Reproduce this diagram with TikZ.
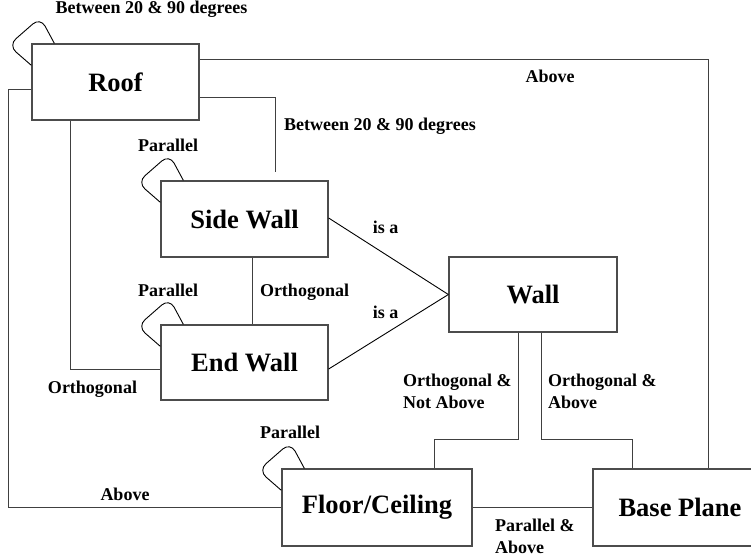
\documentclass[tikz,border=0pt]{standalone}
\usepackage{fontspec}
\setmainfont{Liberation Serif}
\usetikzlibrary{calc}
\tikzset{
  boxnode/.style={draw=black!70, line width=1.3pt, fill=white, inner sep=0pt,
    font=\fontsize{26.5}{30}\selectfont\bfseries},
  conn/.style={draw=black!75, line width=1pt},
  loopline/.style={draw=black, line width=0.9pt},
  lbl/.style={inner sep=0pt, font=\fontsize{18}{22}\selectfont\bfseries, align=left}
}
\newcommand\selfloop[1]{%
  \draw[loopline, rounded corners=10pt] ($(#1.north west)+(23,0)$) -- ($(#1.north west)+(9,-26)$) -- ($(#1.north west)+(-23,2)$) -- ($(#1.north west)+(0,22)$);}
\begin{document}
\begin{tikzpicture}[x=1pt,y=-1pt]
\useasboundingbox (0,0) rectangle (751,558);
% boxes
\node[boxnode, minimum width=167pt, minimum height=76pt] (roof) at (115.5,82) {Roof};
\node[boxnode, minimum width=167pt, minimum height=76pt] (side) at (244.5,219) {Side Wall};
\node[boxnode, minimum width=167pt, minimum height=75pt] (end) at (244.5,362.5) {End Wall};
\node[boxnode, minimum width=168pt, minimum height=75pt] (wall) at (533,294.5) {Wall};
\node[boxnode, minimum width=190pt, minimum height=77pt] (floor) at (377,507.5) {Floor/Ceiling};
\node[boxnode, minimum width=174pt, minimum height=77pt] (base) at (680,507.5) {Base Plane};
% connectors
\draw[conn] (roof.east |- 0,59) -| (base.north -| 708,0);
\draw[conn, shorten >=8pt] (roof.east |- 0,97) -| (side.north -| 275,0);
\draw[conn] (roof.south -| 70,0) |- (end.west |- 0,369);
\draw[conn] (roof.west |- 0,89) -- ++(-23,0) |- (floor.west);
\draw[conn] (side.south -| 252,0) -- (end.north -| 252,0);
\draw[loopline] (side.east |- 0,218) -- (wall.west);
\draw[loopline] (end.east |- 0,369) -- (wall.west);
\draw[conn] (wall.south -| 518,0) -- ++(0,107) -| (floor.north -| 434,0);
\draw[conn] (wall.south -| 541,0) -- ++(0,107) -| (base.north -| 632,0);
\draw[conn] (floor.east) -- (base.west);
% self loops
\selfloop{roof}
\selfloop{side}
\selfloop{end}
\selfloop{floor}
% labels
\node[lbl, anchor=base] (l1) at (151.5,13.5) {Between 20 \& 90 degrees};
\node[lbl, anchor=base] (l2) at (550,82) {Above};
\node[lbl, anchor=base] (l3) at (380,130) {Between 20 \& 90 degrees};
\node[lbl, anchor=base] (l4) at (168,151) {Parallel};
\node[lbl, anchor=base] (l5) at (168,296) {Parallel};
\node[lbl, anchor=base] (l6) at (304.5,296) {Orthogonal};
\node[lbl, anchor=base] (l7) at (92.5,393) {Orthogonal};
\node[lbl, anchor=base] (l8) at (385.5,233) {is a};
\node[lbl, anchor=base] (l9) at (385.5,318) {is a};
\node[lbl, anchor=base] (l10) at (125,500) {Above};
\node[lbl, anchor=base] (l11) at (290,438) {Parallel};
\node[lbl, anchor=base west] (l12) at (403,408) {Orthogonal \&\\Not Above};
\node[lbl, anchor=base west] (l13) at (548,408) {Orthogonal \&\\Above};
\node[lbl, anchor=base west] (l14) at (495,553) {Parallel \&\\Above};
\end{tikzpicture}
\end{document}
